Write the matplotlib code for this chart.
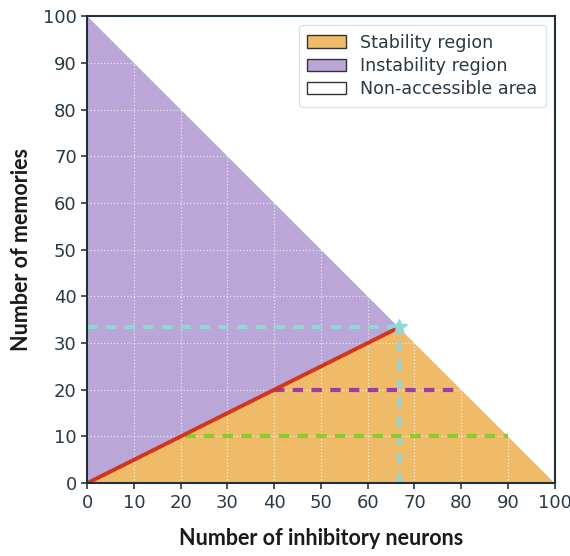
import matplotlib.pyplot as plt
from matplotlib.patches import Patch
import numpy as np

plt.rcParams['font.family'] = ['DejaVu Sans']

# boundaries of the regions
hyp_x = [0, 100]
hyp_y = [100, 0]
crit_x = [0, 200 / 3.0]
crit_y = [0, 100 / 3.0]
star = (200 / 3.0, 100 / 3.0)

# dashed guide lines: (x0, x1, y)
cyan_h = (0, 200 / 3.0, 100 / 3.0)
purple_h = (40, 80, 20)
green_h = (21, 90, 10)

ticks = [0, 10, 20, 30, 40, 50, 60, 70, 80, 90, 100]

c_stab = '#efbb68'
c_inst = '#baa6d7'
c_red = '#d2341c'
c_cyan = '#91d6d6'
c_purple = '#9a3ea6'
c_green = '#8bcb2c'

fig = plt.figure(figsize=(5.7, 5.56), dpi=100)
ax = fig.add_axes([0.153, 0.131, 0.820, 0.840])

x = np.linspace(0, 100, 401)
top = 100 - x
crit = np.minimum(x / 2.0, top)
ax.fill_between(x, 0, crit, color=c_stab, lw=0, zorder=1)
ax.fill_between(x, crit, top, color=c_inst, lw=0, zorder=1)

ax.grid(True, color='white', ls=':', lw=0.9, alpha=0.7, zorder=2)
ax.set_axisbelow(False)

dash = (0, (2.5, 2.0))
ax.plot(crit_x, crit_y, color=c_red, lw=2.8, zorder=4)
ax.plot([cyan_h[0], cyan_h[1]], [cyan_h[2], cyan_h[2]], color=c_cyan, ls=dash, lw=3, zorder=3)
ax.plot([star[0], star[0]], [0, star[1]], color=c_cyan, ls=dash, lw=3, zorder=3)
ax.plot([purple_h[0], purple_h[1]], [purple_h[2], purple_h[2]], color=c_purple, ls=dash, lw=3, zorder=3)
ax.plot([green_h[0], green_h[1]], [green_h[2], green_h[2]], color=c_green, ls=dash, lw=3, zorder=3)
ax.plot(star[0], star[1], marker='*', ms=12, color=c_cyan, zorder=5)

ax.set_xlim(0, 100)
ax.set_ylim(0, 100)
ax.set_xticks(ticks)
ax.set_yticks(ticks)
ax.tick_params(labelsize=13, colors='#2a3a44', width=1.2, length=4)
for lab in ax.get_xticklabels() + ax.get_yticklabels():
    lab.set_color('#2a3a44')
    lab.set_fontweight('medium')
for s in ax.spines.values():
    s.set_color('#1f3038')
    s.set_linewidth(1.5)
    s.set_zorder(6)

ax.set_xlabel('Number of inhibitory neurons', fontsize=15.5, fontweight='bold',
              family='Lato', color='#1a1a1a', labelpad=12)
ax.set_ylabel('Number of memories', fontsize=15.5, fontweight='bold',
              family='Lato', color='#1a1a1a', labelpad=8)

handles = [Patch(facecolor=c_stab, edgecolor='#333333', label='Stability region'),
           Patch(facecolor=c_inst, edgecolor='#333333', label='Instability region'),
           Patch(facecolor='white', edgecolor='#333333', label='Non-accessible area')]
leg = ax.legend(handles=handles, loc='upper right', fontsize=12.6, framealpha=1,
                edgecolor='#d8e4ea', handlelength=2.2, borderpad=0.5, labelspacing=0.3)
for t in leg.get_texts():
    t.set_color('#2a3a44')

fig.savefig('out.png', dpi=100)
